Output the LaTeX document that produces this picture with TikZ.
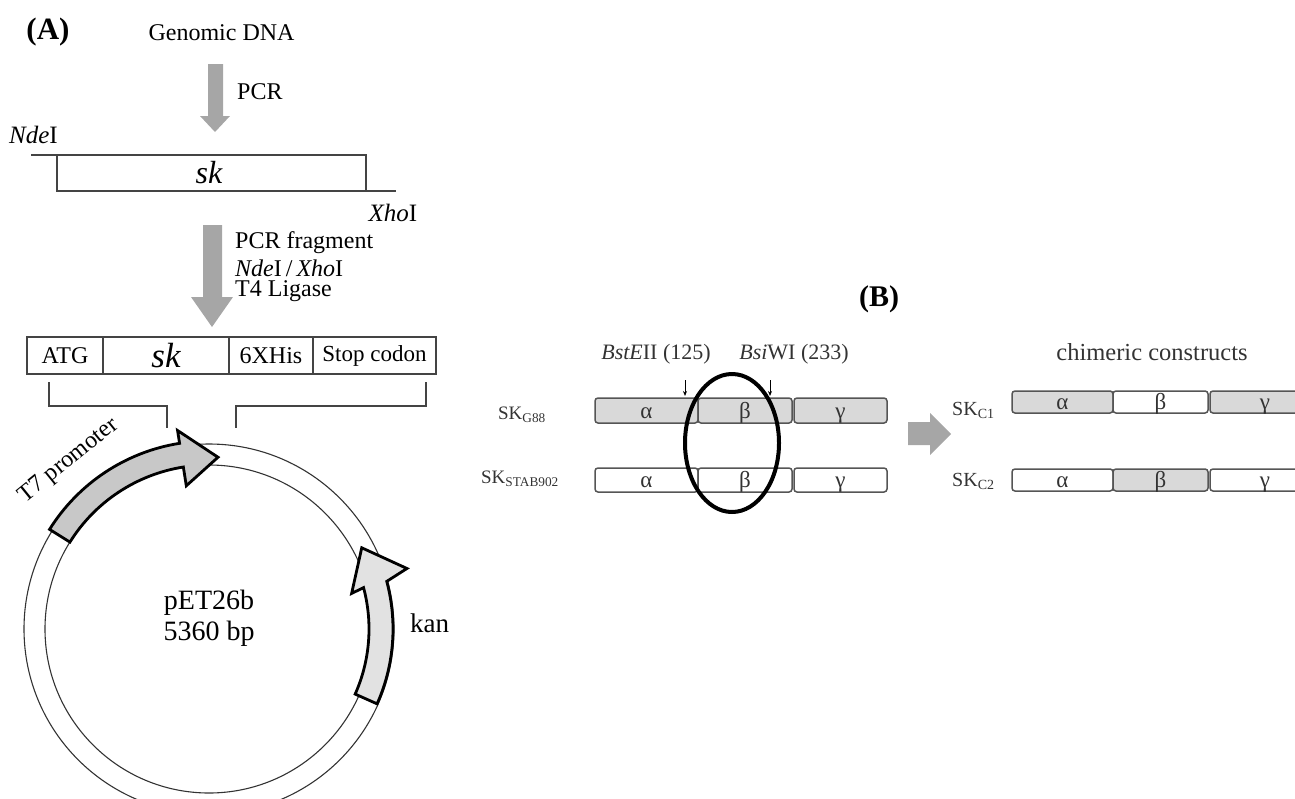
\documentclass[tikz,border=0pt]{standalone}
\usepackage{fontspec}
\setmainfont{Liberation Serif}
\usetikzlibrary{arrows.meta}
\newcommand\fsz[1]{\fontsize{#1}{#1}\selectfont}
\definecolor{arrowgray}{HTML}{A6A6A6}
\definecolor{linegray}{HTML}{444444}
\definecolor{boxline}{HTML}{555555}
\definecolor{segfill}{HTML}{D9D9D9}
\definecolor{tsevenfill}{HTML}{C8C8C8}
\definecolor{kanfill}{HTML}{E2E2E2}
\definecolor{btext}{HTML}{333333}
\begin{document}
\begin{tikzpicture}[x=1pt,y=-1pt,
  lbl/.style={inner sep=0, font=\fsz{24}},
  bigarrow/.style={fill=arrowgray, draw=none},
  strand/.style={draw=linegray, line width=1.3},
  cell/.style={draw=linegray, line width=1.3, inner sep=0, minimum height=37, font=\fsz{24}},
  seg/.style={draw=boxline, line width=1.5, rounded corners=3, inner sep=0, font=\fsz{23}, text=btext, text height=15, text depth=0},
  ringline/.style={draw=black!80, line width=1.1},
  featarrow/.style={draw=black, line width=2.8, line join=miter},
  cutarrow/.style={draw=black, line width=0.9, -{Stealth[length=5,width=4]}},
  sklbl/.style={inner sep=0, font=\fsz{19}, text=btext},
  blbl/.style={inner sep=0, font=\fsz{22}, text=btext}
]
\useasboundingbox (0,0) rectangle (1295,798);
\clip (0,0) rectangle (1295,798);

% ---------------- (A) ----------------
\node[lbl, font=\fsz{31}\bfseries] (labA) at (48,32) {(A)};
\node[lbl] (gdna) at (221.5,33) {Genomic DNA};

% PCR arrow
\fill[bigarrow] (208,64) -- (223,64) -- (223,116) -- (230,116) -- (215,132) -- (200,116) -- (208,116) -- cycle;
\node[lbl, anchor=west] (pcr) at (237,92) {PCR};

% sk fragment
\node[lbl, anchor=west, font=\fsz{25}] (nde) at (9,135) {\textit{Nde}I};
\draw[strand] (31,155) -- (366,155) -- (366,191);
\draw[strand] (57,155) -- (57,191) -- (396,191);
\node[lbl, font=\fsz{32}\itshape] (skfrag) at (209,173) {sk};
\node[lbl, font=\fsz{25}] (xho) at (393,213) {\textit{Xho}I};

% second arrow
\fill[bigarrow] (203,225) -- (222,225) -- (222,297) -- (233,297) -- (212,327) -- (191,297) -- (203,297) -- cycle;
\node[lbl, anchor=west] (frag) at (235,243) {PCR fragment};
\node[lbl, anchor=west] (enz) at (235,268) {\textit{Nde}I\,/\,\textit{Xho}I};
\node[lbl, anchor=west] (lig) at (235,291) {T4 Ligase};

% construct
\node[cell, minimum width=76] (atg) at (65,355.5) {ATG};
\node[cell, minimum width=126, font=\fsz{35}\itshape] (skc) at (166,355.5) {sk};
\node[cell, minimum width=84] (his) at (271,355.5) {6XHis};
\node[cell, minimum width=123, font=\fsz{23}] (stop) at (374.5,355.5) {Stop codon};

% brackets
\draw[strand] (49,382) -- (49,406) -- (167,406) -- (167,428);
\draw[strand] (426,382) -- (426,406) -- (236,406) -- (236,428);

% plasmid
\begin{scope}[shift={(209,629)}, y=1pt]
  \draw[ringline] (0,0) circle[radius=185];
  \draw[ringline] (0,0) circle[radius=164];
  \filldraw[featarrow, fill=tsevenfill]
    (148:188) arc[start angle=148, end angle=99, radius=188]
    -- (99:201) -- (87:172) -- (99:145) -- (99:164)
    arc[start angle=99, end angle=148, radius=164] -- cycle;
  \filldraw[featarrow, fill=kanfill]
    (-24:184) arc[start angle=-24, end angle=15, radius=184]
    -- (17:207) -- (28:173) -- (14:147) -- (15:160)
    arc[start angle=15, end angle=-24, radius=160] -- cycle;
\end{scope}
\node[lbl, rotate=39, font=\fsz{24}] (t7) at (69,461) {T7 promoter};
\node[lbl, anchor=west, font=\fsz{27}] (kan) at (410,623) {kan};
\node[lbl, font=\fsz{28}] (pet) at (209,603) {pET26b};
\node[lbl, font=\fsz{28}] (bp) at (209,634) {5360 bp};

% ---------------- (B) ----------------
\node[lbl, font=\fsz{30}\bfseries] (labB) at (879,299) {(B)};
\node[blbl] (bst) at (656,354) {\textit{BstE}II (125)};
\node[blbl] (bsi) at (794,354) {\textit{Bsi}WI (233)};
\coordinate (c1a) at (685,380); \coordinate (c1b) at (685,396);
\coordinate (c2a) at (770,380); \coordinate (c2b) at (770,396);
\draw[cutarrow] (c1a) -- (c1b);
\draw[cutarrow] (c2a) -- (c2b);

\node[sklbl] (g88) at (522,415) {SK\textsubscript{G88}};
\node[sklbl] (stab) at (520,479) {SK\textsubscript{STAB902}};

\node[seg, fill=segfill, minimum width=103, minimum height=25] (ga) at (646.5,410.5) {α};
\node[seg, fill=segfill, minimum width=94, minimum height=25] (gb) at (745,410.5) {β};
\node[seg, fill=segfill, minimum width=93, minimum height=25] (gg) at (840.5,410.5) {γ};
\node[seg, fill=white, minimum width=103, minimum height=24] (sa) at (646.5,480) {α};
\node[seg, fill=white, minimum width=94, minimum height=24] (sb) at (745,480) {β};
\node[seg, fill=white, minimum width=93, minimum height=24] (sg) at (840.5,480) {γ};

\draw[black, line width=4] (732,443) ellipse[x radius=47, y radius=69];

% big arrow
\fill[bigarrow] (908,422) -- (930,422) -- (930,413) -- (951,434) -- (930,455) -- (930,445) -- (908,445) -- cycle;

\node[blbl, font=\fsz{24.5}] (chim) at (1152,352) {chimeric constructs};
\node[sklbl, anchor=west, font=\fsz{20}] (c1) at (952,410) {SK\textsubscript{C1}};
\node[sklbl, anchor=west, font=\fsz{20}] (c2) at (952,481) {SK\textsubscript{C2}};

\node[seg, fill=segfill, minimum width=101, minimum height=22] (c1al) at (1062.5,402) {α};
\node[seg, fill=white, minimum width=95, minimum height=22] (c1be) at (1160.5,402) {β};
\node[seg, fill=segfill, minimum width=110, minimum height=22] (c1ga) at (1265,402) {γ};
\node[seg, fill=white, minimum width=101, minimum height=22] (c2al) at (1062.5,480) {α};
\node[seg, fill=segfill, minimum width=95, minimum height=22] (c2be) at (1160.5,480) {β};
\node[seg, fill=white, minimum width=110, minimum height=22] (c2ga) at (1265,480) {γ};
\end{tikzpicture}
\end{document}
